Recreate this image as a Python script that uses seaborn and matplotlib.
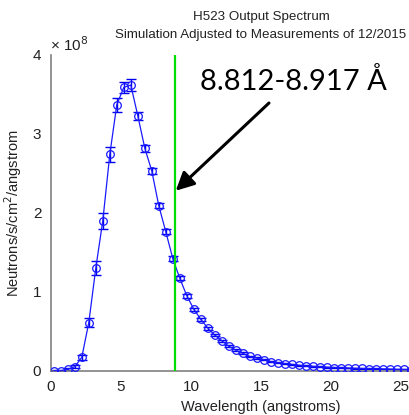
import numpy as np
import pandas as pd
import matplotlib
matplotlib.use("Agg")
import matplotlib.pyplot as plt
import seaborn as sns

# Data (values in units of 1e8 neutrons/s/cm^2/angstrom)
wavelength = [0.2, 0.7, 1.2, 1.7, 2.2, 2.7, 3.2, 3.7, 4.2, 4.7,
              5.2, 5.7, 6.2, 6.7, 7.2, 7.7, 8.2, 8.7, 9.2, 9.7,
              10.2, 10.7, 11.2, 11.7, 12.2, 12.7, 13.2, 13.7, 14.2, 14.7,
              15.2, 15.7, 16.2, 16.7, 17.2, 17.7, 18.2, 18.7, 19.2, 19.7,
              20.2, 20.7, 21.2, 21.7, 22.2, 22.7, 23.2, 23.7, 24.2, 24.7,
              25.2, 25.7]
flux = [0.0, 0.0, 0.02, 0.05, 0.17, 0.61, 1.30, 1.90, 2.74, 3.37,
        3.59, 3.62, 3.23, 2.82, 2.53, 2.09, 1.76, 1.42, 1.17, 0.95,
        0.78, 0.65, 0.54, 0.45, 0.38, 0.31, 0.26, 0.22, 0.18, 0.16,
        0.14, 0.115, 0.10, 0.09, 0.08, 0.07, 0.06, 0.055, 0.05, 0.045,
        0.04, 0.037, 0.034, 0.031, 0.028, 0.026, 0.024, 0.022, 0.02, 0.018,
        0.016, 0.015]
flux_err = [0.005, 0.005, 0.01, 0.02, 0.03, 0.06, 0.09, 0.10, 0.09, 0.09,
            0.07, 0.07, 0.05, 0.045, 0.04, 0.03, 0.03, 0.03, 0.025, 0.025,
            0.02, 0.02, 0.02, 0.015, 0.015, 0.015, 0.012, 0.012, 0.01, 0.01,
            0.01, 0.01, 0.008, 0.008, 0.008, 0.008, 0.006, 0.006, 0.006, 0.006,
            0.005, 0.005, 0.005, 0.005, 0.005, 0.005, 0.004, 0.004, 0.004, 0.004,
            0.004, 0.004]
window_center = 8.86
window_label = "8.812-8.917 Å"
title_lines = ["H523 Output Spectrum", "Simulation Adjusted to Measurements of 12/2015"]
x_ticks = [0, 5, 10, 15, 20, 25]
y_ticks = [0, 1, 2, 3, 4]

df = pd.DataFrame({"wavelength": wavelength, "flux": flux, "err": flux_err})

sns.set_style("white")
plt.rcParams["font.family"] = ["Liberation Sans", "DejaVu Sans"]

W, H = 409, 415
fig = plt.figure(figsize=(W / 100, H / 100), dpi=100)
ax_left, ax_right, ax_top, ax_bottom = 51, 471, 55, 370.7
ax = fig.add_axes([ax_left / W, (H - ax_bottom) / H, (ax_right - ax_left) / W, (ax_bottom - ax_top) / H])

blue = "#1a1aff"
ax.errorbar(df["wavelength"], df["flux"], yerr=df["err"], fmt="none",
            ecolor="#0000ee", elinewidth=1.0, capsize=3.5, capthick=1.0, zorder=2)
sns.lineplot(data=df, x="wavelength", y="flux", ax=ax, color=blue, linewidth=0.9,
             marker="o", markersize=5.5, markerfacecolor="none",
             markeredgecolor=blue, markeredgewidth=0.9, zorder=3)

ax.axvline(window_center, ymin=0, ymax=1, color="#00dd00", linewidth=1.6, zorder=4)

ax.set_xlim(0, 30)
ax.set_ylim(0, 4)
ax.set_xticks(x_ticks)
ax.set_yticks(y_ticks)
ax.set_xticklabels([str(t) for t in x_ticks])
ax.set_yticklabels([str(t) for t in y_ticks])

for s in ["top", "right"]:
    ax.spines[s].set_visible(False)
for s in ["left", "bottom"]:
    ax.spines[s].set_color("#808080")
    ax.spines[s].set_linewidth(1.2)
ax.tick_params(axis="both", direction="in", length=4, width=0.8, color="#333333",
               labelsize=11, labelcolor="#222222", pad=7)

ax.set_xlabel("Wavelength (angstroms)", fontsize=10.5, color="#222222", labelpad=4)
ax.set_ylabel("Neutrons/s/cm$^2$/angstrom", fontsize=10.5, color="#222222", labelpad=6)

ax.set_title(title_lines[0] + "\n" + title_lines[1], fontsize=9.6, color="#222222",
             pad=12, linespacing=1.75)

fig.text(50 / W, 1 - 45 / H, "× 10$^{8}$", fontsize=11, color="#222222",
         ha="left", va="center")

fig.text(293 / W, 1 - 82 / H, window_label, fontsize=21, color="black",
         family=["Lato", "DejaVu Sans"], ha="center", va="center")

ax.annotate("", xy=(window_center + 0.05, 2.28), xycoords="data",
            xytext=(269 / W, 1 - 103 / H), textcoords="figure fraction",
            arrowprops=dict(arrowstyle="-|>,head_length=1.1,head_width=0.55",
                            color="black", lw=2.2, shrinkA=0, shrinkB=0),
            annotation_clip=False)

fig.savefig("out.png", dpi=100)
